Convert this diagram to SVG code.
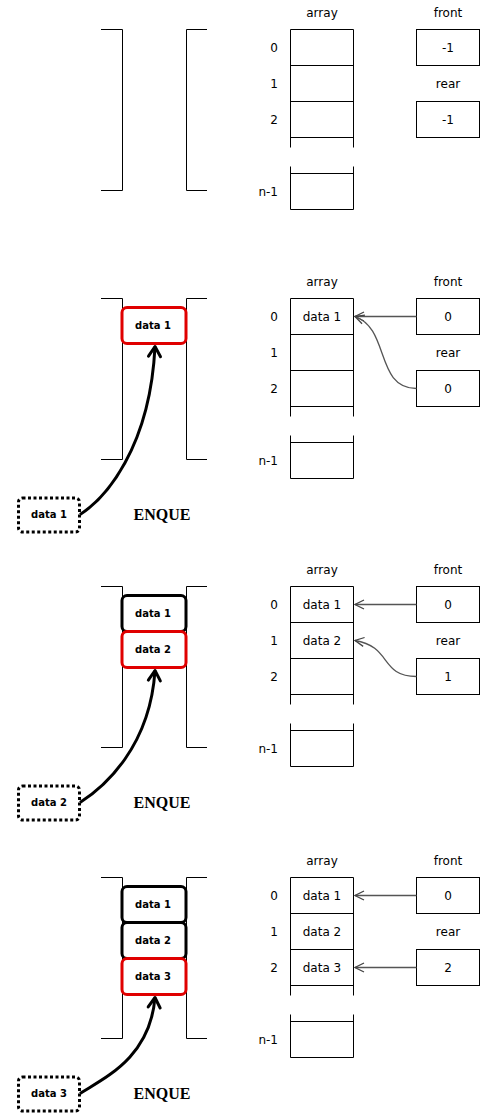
<svg xmlns="http://www.w3.org/2000/svg" width="496" height="1120" viewBox="0 0 496 1120">
<style>
.ln{fill:none;stroke:#000;stroke-width:1}
.bx{fill:#fff;stroke:#000;stroke-width:1}
.lbl{font-family:"DejaVu Sans",sans-serif;font-size:12px;fill:#000}
.mid{text-anchor:middle}
.end{text-anchor:end}
.stk{fill:#fff;stroke:#000;stroke-width:3}
.red{stroke:#e00000}
.btxt{font-family:"DejaVu Sans",sans-serif;font-weight:bold;font-size:10px;text-anchor:middle;fill:#000}
.dot{fill:#fff;stroke:#000;stroke-width:3;stroke-dasharray:3 2.5}
.enq{font-family:"Liberation Serif",serif;font-weight:bold;font-size:16px;text-anchor:middle;fill:#000}
.arr{fill:none;stroke:#000;stroke-width:3;marker-end:url(#big)}
.ptr{fill:none;stroke:#555;stroke-width:1.3;marker-end:url(#small)}
</style>
<defs>
<marker id="big" markerUnits="userSpaceOnUse" markerWidth="1" markerHeight="1" refX="0" refY="0" orient="auto" style="overflow:visible">
<path d="M-10,-6 L0,0 L-10,6" fill="none" stroke="#000" stroke-width="3" stroke-linejoin="round" stroke-linecap="round"/>
</marker>
<marker id="small" markerUnits="userSpaceOnUse" markerWidth="1" markerHeight="1" refX="0" refY="0" orient="auto" style="overflow:visible">
<path d="M-9,-4.5 L0,0 L-9,4.5" fill="none" stroke="#444" stroke-width="1.3"/>
</marker>
</defs>
<rect width="496" height="1120" fill="#fff"/>

<!-- Panel 1 -->
<g id="panel1" transform="translate(0,29.5)">
  <g id="p1-queue">
    <path class="ln" d="M101,0 H122.5 V161 H101 M207,0 H186.5 V161 H207"/>
  </g>
  <g id="p1-array">
    <text class="lbl mid" x="322" y="-13">array</text>
    <path class="ln" d="M290.5,118 V0 H353.5 V118 M290.5,36 H353.5 M290.5,72 H353.5 M290.5,108 H353.5 M290.5,137 V180 H353.5 V137 M290.5,144 H353.5"/>
    <text class="lbl end" x="278" y="22.5">0</text>
    <text class="lbl end" x="278" y="58.5">1</text>
    <text class="lbl end" x="278" y="94.5">2</text>
    <text class="lbl end" x="278" y="166.5">n-1</text>
  </g>
  <g id="p1-front">
    <text class="lbl mid" x="448" y="-13">front</text>
    <rect class="bx" x="416.5" y="0" width="63" height="36"/>
    <text class="lbl mid" x="448" y="22.5">-1</text>
  </g>
  <g id="p1-rear">
    <text class="lbl mid" x="448" y="58.5">rear</text>
    <rect class="bx" x="416.5" y="72" width="63" height="36"/>
    <text class="lbl mid" x="448" y="94.5">-1</text>
  </g>
</g>

<!-- Panel 2 -->
<g id="panel2" transform="translate(0,298.5)">
  <g id="p2-queue">
    <path class="ln" d="M101,0 H122.5 V161 H101 M207,0 H186.5 V161 H207"/>
  </g>
  <g id="p2-q-data1">
    <rect class="stk red" x="122" y="9" width="64" height="36" rx="5"/>
    <text class="btxt" x="153" y="30.6">data 1</text>
  </g>
  <g id="p2-input">
    <rect class="dot" x="18.5" y="199.5" width="61" height="34" rx="4"/>
    <text class="btxt" x="49" y="219.8">data 1</text>
  </g>
  <g id="p2-enque"><text class="enq" x="162" y="221.5">ENQUE</text></g>
  <g id="p2-array">
    <text class="lbl mid" x="322" y="-13">array</text>
    <path class="ln" d="M290.5,118 V0 H353.5 V118 M290.5,36 H353.5 M290.5,72 H353.5 M290.5,108 H353.5 M290.5,137 V180 H353.5 V137 M290.5,144 H353.5"/>
    <text class="lbl end" x="278" y="22.5">0</text>
    <text class="lbl end" x="278" y="58.5">1</text>
    <text class="lbl end" x="278" y="94.5">2</text>
    <text class="lbl end" x="278" y="166.5">n-1</text>
    <text class="lbl mid" x="322" y="22.5">data 1</text>
  </g>
  <g id="p2-front">
    <text class="lbl mid" x="448" y="-13">front</text>
    <rect class="bx" x="416.5" y="0" width="63" height="36"/>
    <text class="lbl mid" x="448" y="22.5">0</text>
  </g>
  <g id="p2-rear">
    <text class="lbl mid" x="448" y="58.5">rear</text>
    <rect class="bx" x="416.5" y="72" width="63" height="36"/>
    <text class="lbl mid" x="448" y="94.5">0</text>
  </g>
  <g id="p2-connectors">
    <path class="arr" d="M80,216 C105,200 150,150 155,48"/>
    <path class="ptr" d="M416.5,18 H355"/>
    <path class="ptr" d="M416.5,90 C375,90 390,30 355,18"/>
  </g>
</g>

<!-- Panel 3 -->
<g id="panel3" transform="translate(0,586.5)">
  <g id="p3-queue">
    <path class="ln" d="M101,0 H122.5 V161 H101 M207,0 H186.5 V161 H207"/>
  </g>
  <g id="p3-q-data1">
    <rect class="stk" x="122" y="9" width="64" height="36" rx="5"/>
    <text class="btxt" x="153" y="30.6">data 1</text>
  </g>
  <g id="p3-q-data2">
    <rect class="stk red" x="122" y="45" width="64" height="36" rx="5"/>
    <text class="btxt" x="153" y="66.6">data 2</text>
  </g>
  <g id="p3-input">
    <rect class="dot" x="18.5" y="199.5" width="61" height="34" rx="4"/>
    <text class="btxt" x="49" y="219.8">data 2</text>
  </g>
  <g id="p3-enque"><text class="enq" x="162" y="221.5">ENQUE</text></g>
  <g id="p3-array">
    <text class="lbl mid" x="322" y="-13">array</text>
    <path class="ln" d="M290.5,118 V0 H353.5 V118 M290.5,36 H353.5 M290.5,72 H353.5 M290.5,108 H353.5 M290.5,137 V180 H353.5 V137 M290.5,144 H353.5"/>
    <text class="lbl end" x="278" y="22.5">0</text>
    <text class="lbl end" x="278" y="58.5">1</text>
    <text class="lbl end" x="278" y="94.5">2</text>
    <text class="lbl end" x="278" y="166.5">n-1</text>
    <text class="lbl mid" x="322" y="22.5">data 1</text>
    <text class="lbl mid" x="322" y="58.5">data 2</text>
  </g>
  <g id="p3-front">
    <text class="lbl mid" x="448" y="-13">front</text>
    <rect class="bx" x="416.5" y="0" width="63" height="36"/>
    <text class="lbl mid" x="448" y="22.5">0</text>
  </g>
  <g id="p3-rear">
    <text class="lbl mid" x="448" y="58.5">rear</text>
    <rect class="bx" x="416.5" y="72" width="63" height="36"/>
    <text class="lbl mid" x="448" y="94.5">1</text>
  </g>
  <g id="p3-connectors">
    <path class="arr" d="M80,216 C105,200 150,160 155,84"/>
    <path class="ptr" d="M416.5,18 H355"/>
    <path class="ptr" d="M416.5,90 C380,90 392,60 355,54"/>
  </g>
</g>

<!-- Panel 4 -->
<g id="panel4" transform="translate(0,877.5)">
  <g id="p4-queue">
    <path class="ln" d="M101,0 H122.5 V161 H101 M207,0 H186.5 V161 H207"/>
  </g>
  <g id="p4-q-data1">
    <rect class="stk" x="122" y="9" width="64" height="36" rx="5"/>
    <text class="btxt" x="153" y="30.6">data 1</text>
  </g>
  <g id="p4-q-data2">
    <rect class="stk" x="122" y="45" width="64" height="36" rx="5"/>
    <text class="btxt" x="153" y="66.6">data 2</text>
  </g>
  <g id="p4-q-data3">
    <rect class="stk red" x="122" y="81" width="64" height="36" rx="5"/>
    <text class="btxt" x="153" y="102.6">data 3</text>
  </g>
  <g id="p4-input">
    <rect class="dot" x="18.5" y="199.5" width="61" height="34" rx="4"/>
    <text class="btxt" x="49" y="219.8">data 3</text>
  </g>
  <g id="p4-enque"><text class="enq" x="162" y="221.5">ENQUE</text></g>
  <g id="p4-array">
    <text class="lbl mid" x="322" y="-13">array</text>
    <path class="ln" d="M290.5,118 V0 H353.5 V118 M290.5,36 H353.5 M290.5,72 H353.5 M290.5,108 H353.5 M290.5,137 V180 H353.5 V137 M290.5,144 H353.5"/>
    <text class="lbl end" x="278" y="22.5">0</text>
    <text class="lbl end" x="278" y="58.5">1</text>
    <text class="lbl end" x="278" y="94.5">2</text>
    <text class="lbl end" x="278" y="166.5">n-1</text>
    <text class="lbl mid" x="322" y="22.5">data 1</text>
    <text class="lbl mid" x="322" y="58.5">data 2</text>
    <text class="lbl mid" x="322" y="94.5">data 3</text>
  </g>
  <g id="p4-front">
    <text class="lbl mid" x="448" y="-13">front</text>
    <rect class="bx" x="416.5" y="0" width="63" height="36"/>
    <text class="lbl mid" x="448" y="22.5">0</text>
  </g>
  <g id="p4-rear">
    <text class="lbl mid" x="448" y="58.5">rear</text>
    <rect class="bx" x="416.5" y="72" width="63" height="36"/>
    <text class="lbl mid" x="448" y="94.5">2</text>
  </g>
  <g id="p4-connectors">
    <path class="arr" d="M80,216 C105,200 150,180 155,120"/>
    <path class="ptr" d="M416.5,18 H355"/>
    <path class="ptr" d="M416.5,90 H355"/>
  </g>
</g>
</svg>
